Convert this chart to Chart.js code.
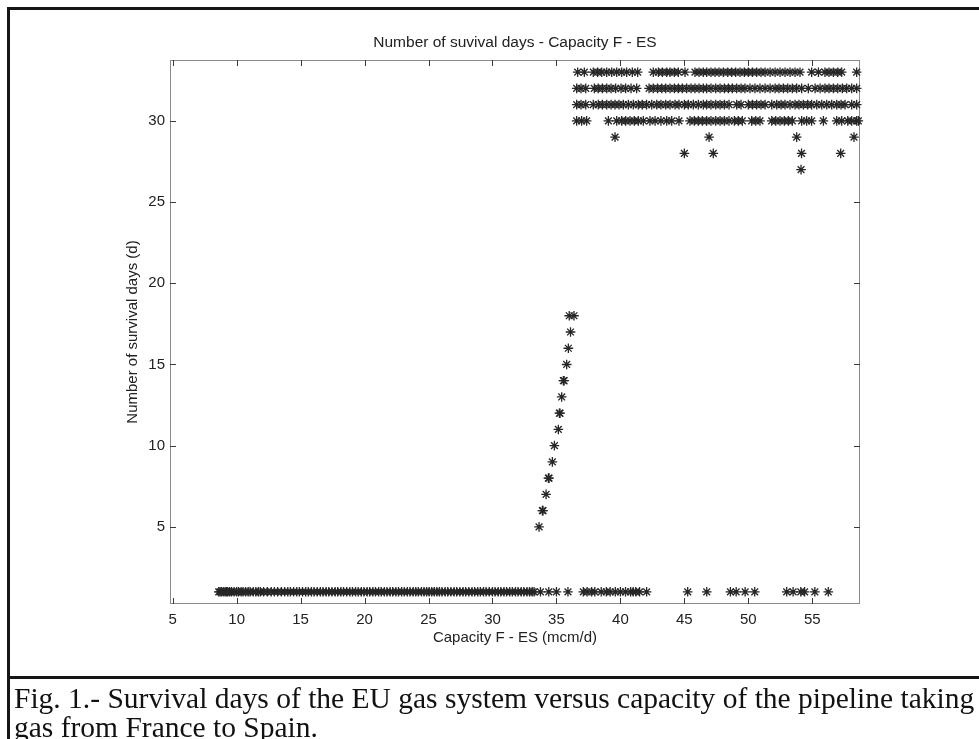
<!DOCTYPE html>
<html lang="en">
<head>
    <meta charset="UTF-8">
    <title>Number of suvival days - Capacity F - ES</title>
    <script src="https://cdn.jsdelivr.net/npm/chart.js"></script>
    <style>
        html, body { margin: 0; padding: 0; background: #fff; }
        body { width: 979px; height: 739px; position: relative; overflow: hidden; }
        .frame { position: absolute; left: 7px; top: 7px; width: 1000px; height: 800px;
                 border-left: 3px solid #151515; border-top: 3px solid #151515; }
        .sep { position: absolute; left: 7px; top: 676px; width: 1000px; border-top: 3px solid #151515; }
        .chart-box { position: absolute; left: 0; top: 0; width: 979px; height: 680px; }
        .caption { position: absolute; left: 14px; top: 684px; font-family: "Liberation Serif", "Times New Roman", serif;
                   font-size: 29.5px; line-height: 29px; color: #111; white-space: nowrap; }
    </style>
</head>
<body>
    <div class="frame"></div>
    <div class="chart-box"><canvas id="survival-chart"></canvas></div>
    <div class="sep"></div>
    <div class="caption">
        <div>Fig. 1.- Survival days of the EU gas system versus capacity of the pipeline taking</div>
        <div>gas from France to Spain.</div>
    </div>
    <script>
        // eixos
        const xMin = 4.79, xMax = 58.73;
        const yMin = 0.25, yMax = 33.75;
        const xTicks = [5, 10, 15, 20, 25, 30, 35, 40, 45, 50, 55];
        const yTicks = [5, 10, 15, 20, 25, 30];

        // 1 dia de sobrevivencia
        const day1X = [8.6, 8.7, 8.8, 8.95, 9.1, 9.2, 9.3, 9.45, 9.6, 9.8, 10.0, 10.15, 10.35, 10.5, 10.7, 10.9,
            11.05, 11.3, 11.5, 11.7, 11.85, 12.1, 12.4, 12.7, 12.95, 13.2, 13.5, 13.75, 14.0, 14.2, 14.45, 14.7,
            14.9, 15.15, 15.4, 15.6, 15.85, 16.05, 16.3, 16.55, 16.75, 17.0, 17.2, 17.45, 17.7, 17.9, 18.15,
            18.35, 18.6, 18.85, 19.05, 19.3, 19.5, 19.75, 19.95, 20.2, 20.4, 20.65, 20.85, 21.1, 21.3, 21.55,
            21.75, 22.0, 22.2, 22.45, 22.65, 22.9, 23.1, 23.35, 23.55, 23.8, 24.0, 24.2, 24.45, 24.65, 24.85,
            25.05, 25.25, 25.45, 25.65, 25.85, 26.05, 26.3, 26.5, 26.75, 27.0, 27.2, 27.45, 27.7, 27.9, 28.15,
            28.4, 28.6, 28.85, 29.05, 29.3, 29.5, 29.75, 30.0, 30.2, 30.45, 30.65, 30.9, 31.1, 31.35, 31.55,
            31.8, 32.0, 32.25, 32.45, 32.7, 32.9, 33.1, 33.25,
            33.75, 34.4, 35.0, 35.9, 37.1, 37.4, 37.75, 38.0, 38.5, 38.9, 39.2, 39.6, 40.0, 40.4, 40.8, 41.0,
            41.2, 41.5, 42.05, 45.26, 46.75, 48.6, 49.05, 49.75, 50.5, 53.0, 53.5, 54.1, 54.4, 55.2, 56.25];

        // subida entre 33 e 37
        const riseX = [33.64, 33.9, 33.95, 34.19, 34.37, 34.42, 34.68, 34.84, 35.15, 35.23, 35.28, 35.41,
            35.54, 35.6, 35.8, 35.93, 36.1, 36.0, 36.37];
        const riseY = [5, 6, 6, 7, 8, 8, 9, 10, 11, 12, 12, 13, 14, 14, 15, 16, 17, 18, 18];

        // linhas de 30 a 33 dias
        const day33X = [36.66, 37.18, 37.88, 38.22, 38.54, 38.93, 39.32, 39.71, 40.10, 40.49, 40.93, 41.35,
            42.57, 42.97, 43.28, 43.62, 43.88, 44.22, 44.53, 45.05, 45.83, 46.15, 46.48, 46.74, 47.08, 47.40,
            47.71, 48.05, 48.39, 48.7, 49.01, 49.35, 49.69, 50.0, 50.32, 50.65, 50.99, 51.31, 51.7, 52.09,
            52.48, 52.87, 53.26, 53.65, 54.04, 54.95, 55.48, 55.99, 56.31, 56.65, 56.99, 57.3, 58.47];
        const day32X = [36.58, 36.92, 37.29, 37.96, 38.27, 38.59, 38.93, 39.27, 39.63, 40.05, 40.41, 40.83,
            41.27, 42.24, 42.57, 42.91, 43.23, 43.54, 43.88, 44.22, 44.53, 44.84, 45.18, 45.52, 45.83, 46.15,
            46.48, 46.74, 47.08, 47.45, 47.79, 48.13, 48.44, 48.75, 49.09, 49.43, 49.74, 50.13, 50.52, 50.91,
            51.31, 51.7, 52.09, 52.4, 52.74, 53.08, 53.44, 53.78, 54.17, 54.69, 55.22, 55.61, 55.99, 56.31,
            56.65, 56.99, 57.35, 57.69, 58.08, 58.47];
        const day31X = [36.58, 36.92, 37.29, 37.88, 38.27, 38.59, 38.93, 39.27, 39.58, 39.89, 40.23, 40.62,
            41.01, 41.4, 41.71, 42.05, 42.45, 42.84, 43.17, 43.54, 43.88, 44.27, 44.58, 45.0, 45.31, 45.7,
            46.09, 46.48, 46.74, 47.08, 47.45, 47.79, 48.13, 48.49, 49.09, 49.43, 50.0, 50.32, 50.65, 50.99,
            51.31, 51.83, 52.22, 52.56, 52.87, 53.26, 53.65, 53.96, 54.3, 54.64, 54.95, 55.35, 55.74, 56.13,
            56.52, 56.91, 57.25, 57.56, 58.08, 58.47];
        const day30X = [36.58, 36.97, 37.36, 39.06, 39.71, 40.1, 40.41, 40.75, 41.09, 41.4, 41.79, 42.31,
            42.71, 43.17, 43.62, 44.01, 44.58, 45.44, 45.78, 46.09, 46.41, 46.74, 47.08, 47.45, 47.79, 48.13,
            48.49, 48.91, 49.22, 49.53, 50.26, 50.58, 50.91, 51.83, 52.14, 52.48, 52.82, 53.13, 53.44, 54.17,
            54.56, 54.95, 55.87, 56.91, 57.3, 57.77, 58.08, 58.47, 58.6];

        // pontos isolados
        const looseX = [39.58, 46.93, 53.78, 58.26, 45.0, 47.26, 54.16, 57.22, 54.12];
        const looseY = [29, 29, 29, 29, 28, 28, 28, 28, 27];

        const points = [];
        day1X.forEach(v => points.push({ x: v, y: 1 }));
        riseX.forEach((v, i) => points.push({ x: v, y: riseY[i] }));
        day30X.forEach(v => points.push({ x: v, y: 30 }));
        day31X.forEach(v => points.push({ x: v, y: 31 }));
        day32X.forEach(v => points.push({ x: v, y: 32 }));
        day33X.forEach(v => points.push({ x: v, y: 33 }));
        looseX.forEach((v, i) => points.push({ x: v, y: looseY[i] }));

        const axisFont = { family: '"Liberation Sans", Arial, sans-serif', size: 15 };

        // caixa e ticks para dentro, como no matlab
        const matlabBox = {
            id: 'matlabBox',
            beforeDatasetsDraw(chart) {
                const { ctx, chartArea: a, scales: { x, y } } = chart;
                ctx.save();
                ctx.strokeStyle = '#8a8a8a';
                ctx.lineWidth = 1;
                ctx.strokeRect(a.left + 0.5, a.top + 0.5, a.right - a.left - 1, a.bottom - a.top - 1);
                ctx.strokeStyle = '#3a3a3a';
                ctx.beginPath();
                xTicks.forEach(v => {
                    const px = Math.round(x.getPixelForValue(v)) + 0.5;
                    ctx.moveTo(px, a.bottom); ctx.lineTo(px, a.bottom - 6);
                    ctx.moveTo(px, a.top); ctx.lineTo(px, a.top + 6);
                });
                yTicks.forEach(v => {
                    const py = Math.round(y.getPixelForValue(v)) + 0.5;
                    ctx.moveTo(a.left, py); ctx.lineTo(a.left + 6, py);
                    ctx.moveTo(a.right, py); ctx.lineTo(a.right - 6, py);
                });
                ctx.stroke();
                ctx.restore();
            }
        };

        const ctx = document.getElementById('survival-chart').getContext('2d');
        const survivalChart = new Chart(ctx, {
            type: 'scatter',
            data: {
                datasets: [{
                    label: 'Survival days',
                    data: points,
                    pointStyle: 'star',
                    pointRadius: 4.8,
                    borderColor: '#262626',
                    backgroundColor: '#262626',
                    borderWidth: 1.3,
                    clip: false
                }]
            },
            options: {
                responsive: true,
                maintainAspectRatio: false,
                animation: false,
                events: [],
                layout: { padding: { left: 0, right: 119, top: 0, bottom: 0 } },
                plugins: {
                    legend: { display: false },
                    tooltip: { enabled: false },
                    title: {
                        display: true,
                        text: 'Number of suvival days - Capacity F - ES',
                        fullSize: false,
                        color: '#222',
                        font: { family: '"Liberation Sans", Arial, sans-serif', size: 15.5, weight: 'normal' },
                        padding: { top: 33.7, bottom: 7.7 }
                    }
                },
                scales: {
                    x: {
                        type: 'linear',
                        min: xMin,
                        max: xMax,
                        grid: { display: false, drawTicks: false },
                        border: { display: false },
                        ticks: { font: axisFont, color: '#222', padding: 7, maxRotation: 0, autoSkip: false },
                        afterBuildTicks: s => { s.ticks = xTicks.map(v => ({ value: v })); },
                        afterFit: s => { s.height = 76; },
                        title: {
                            display: true,
                            text: 'Capacity F - ES (mcm/d)',
                            color: '#222',
                            font: axisFont,
                            padding: { top: 0, bottom: 33 }
                        }
                    },
                    y: {
                        type: 'linear',
                        min: yMin,
                        max: yMax,
                        grid: { display: false, drawTicks: false },
                        border: { display: false },
                        ticks: { font: axisFont, color: '#222', padding: 5, autoSkip: false },
                        afterBuildTicks: s => { s.ticks = yTicks.map(v => ({ value: v })); },
                        afterFit: s => { s.width = 170; },
                        title: {
                            display: true,
                            text: 'Number of survival days (d)',
                            color: '#222',
                            font: axisFont,
                            padding: { top: 124, bottom: 0 }
                        }
                    }
                }
            },
            plugins: [matlabBox]
        });
    </script>
</body>
</html>
